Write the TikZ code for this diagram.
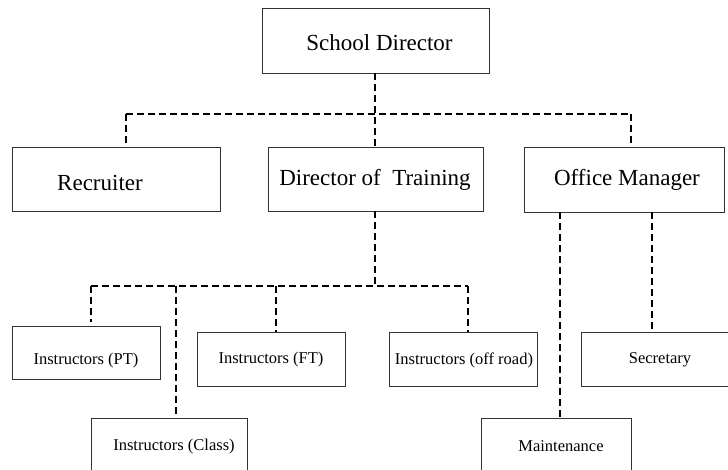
\documentclass[tikz,border=0pt]{standalone}
\usepackage{fontspec}
\setmainfont{Liberation Serif}
\begin{document}
\begin{tikzpicture}[x=1pt,y=-1pt,
  box/.style={draw=black!80, line width=0.9pt, rectangle, inner sep=0pt},
  bigtxt/.style={inner sep=0pt, font=\fontsize{23}{27}\selectfont},
  smalltxt/.style={inner sep=0pt, font=\fontsize{16.5}{20}\selectfont},
  conn/.style={draw=black, line width=2pt, dash pattern=on 7pt off 4pt}]
\useasboundingbox (0,0) rectangle (728,470);
\clip (0,0) rectangle (728,470);

% boxes
\node[box, minimum width=227pt, minimum height=65pt] (sd)  at (375.5,40.5) {};
\node[box, minimum width=208pt, minimum height=64pt] (rec) at (116,179) {};
\node[box, minimum width=215pt, minimum height=64pt] (dot) at (375.5,179) {};
\node[box, minimum width=200pt, minimum height=65pt] (om)  at (624,179.5) {};
\node[box, minimum width=148pt, minimum height=53pt] (pt)  at (86,352.5) {};
\node[box, minimum width=148pt, minimum height=54pt] (ft)  at (271,359) {};
\node[box, minimum width=148pt, minimum height=54pt] (ofr) at (463,359) {};
\node[box, minimum width=159pt, minimum height=54pt] (sec) at (660.5,359) {};
\node[box, minimum width=156pt, minimum height=62pt] (cls) at (169,449) {};
\node[box, minimum width=150pt, minimum height=62pt] (mnt) at (556,449) {};

% labels
\node[bigtxt] (sdT)  at (379.5,43) {School Director};
\node[bigtxt] (recT) at (100,183) {Recruiter};
\node[bigtxt] (dotT) at (375,180) {Director of\ \ Training};
\node[bigtxt] (omT)  at (627,180) {Office Manager};
\node[smalltxt] (ptT)  at (86,361) {Instructors (PT)};
\node[smalltxt] (ftT)  at (271,360) {Instructors (FT)};
\node[smalltxt] (ofrT) at (464,360) {Instructors (off road)};
\node[smalltxt] (secT) at (660,360) {Secretary};
\node[smalltxt] (clsT) at (174,447) {Instructors (Class)};
\node[smalltxt] (mntT) at (561,446) {Maintenance};

% junction points of the dashed lines
\coordinate (a0) at (375,114);
\coordinate (a1) at (126,114);
\coordinate (a2) at (631,114);
\coordinate (b0) at (375,286);
\coordinate (b1) at (91,286);
\coordinate (b2) at (176,286);
\coordinate (b3) at (276,286);
\coordinate (b4) at (468,286);
\coordinate (c1) at (560,0);
\coordinate (c2) at (652,0);

% top level
\draw[conn] (a0 |- sd.south) -- (a0 |- dot.north);
\draw[conn] (a1) -- (a2);
\draw[conn] (a1) -- (a1 |- rec.north);
\draw[conn] (a2) -- (a2 |- om.north);

% training branch
\draw[conn] (b0 |- dot.south) -- (b0);
\draw[conn] (b1) -- (b4);
\draw[conn] (b1) -- ([yshift=4pt]b1 |- pt.north);
\draw[conn] (b2) -- (b2 |- cls.north);
\draw[conn] (b3) -- (b3 |- ft.north);
\draw[conn] (b4) -- (b4 |- ofr.north);

% office branch
\draw[conn] (c1 |- om.south) -- (c1 |- mnt.north);
\draw[conn] (c2 |- om.south) -- (c2 |- sec.north);
\end{tikzpicture}
\end{document}
